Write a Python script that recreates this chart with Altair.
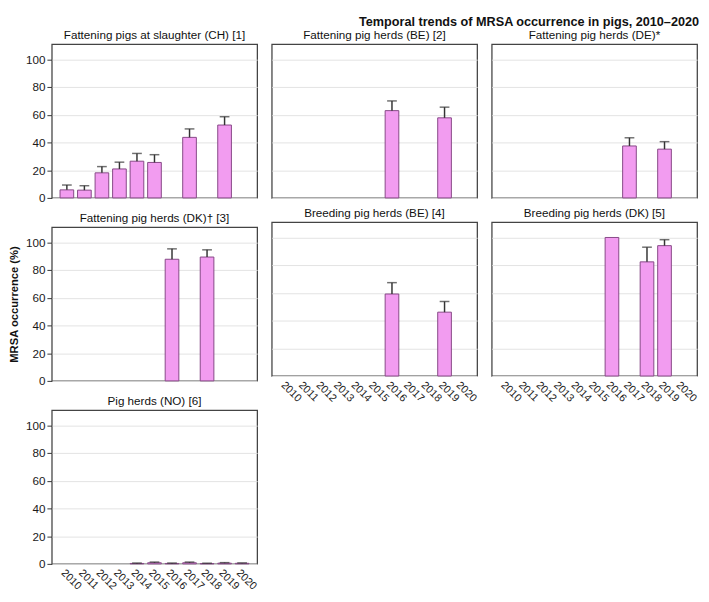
import altair as alt
import pandas as pd

years = [str(y) for y in range(2010, 2021)]
y_ticks = [0, 20, 40, 60, 80, 100]

titles = [
    "Fattening pigs at slaughter (CH) [1]",
    "Fattening pig herds (BE) [2]",
    "Fattening pig herds (DE)*",
    "Fattening pig herds (DK)\u2020 [3]",
    "Breeding pig herds (BE) [4]",
    "Breeding pig herds (DK) [5]",
    "Pig herds (NO) [6]",
]

ch_years = ["2010", "2011", "2012", "2013", "2014", "2015", "2017", "2019"]
ch_values = [5.8, 5.6, 18.1, 20.9, 26.5, 25.6, 43.7, 52.6]
ch_upper = [9.3, 8.8, 22.6, 25.8, 32.1, 31.2, 49.8, 58.6]

befat_years = ["2016", "2019"]
befat_values = [63.0, 57.8]
befat_upper = [70.0, 65.5]

defat_years = ["2017", "2019"]
defat_values = [37.5, 35.2]
defat_upper = [43.4, 40.6]

dkfat_years = ["2016", "2018"]
dkfat_values = [87.8, 89.4]
dkfat_upper = [95.3, 94.6]

bebr_years = ["2016", "2019"]
bebr_values = [59.2, 46.1]
bebr_upper = [67.4, 53.8]

dkbr_years = ["2016", "2018", "2019"]
dkbr_values = [100.0, 82.4, 94.1]
dkbr_upper = [None, 93.0, 98.4]

no_years = ["2014", "2015", "2016", "2017", "2018", "2019", "2020"]
no_values = [0.3, 0.8, 0.3, 0.8, 0.2, 0.5, 0.4]
no_upper = [0.6, 1.3, 0.6, 1.3, 0.5, 0.9, 0.7]

series = [
    (ch_years, ch_values, ch_upper),
    (befat_years, befat_values, befat_upper),
    (defat_years, defat_values, defat_upper),
    (dkfat_years, dkfat_values, dkfat_upper),
    (bebr_years, bebr_values, bebr_upper),
    (dkbr_years, dkbr_values, dkbr_upper),
    (no_years, no_values, no_upper),
]

rows = []
for t, (ys, vs, us) in zip(titles, series):
    for y, v, u in zip(ys, vs, us):
        rows.append({"panel": t, "year": y, "value": v, "upper": u})
df = pd.DataFrame(rows)

FONT = "Liberation Sans"
W, H = 211, 158


def panel(idx, show_y_labels, show_x_labels, y_title=None):
    t = titles[idx]
    base = alt.Chart(df).transform_filter(alt.datum.panel == t)
    if show_x_labels:
        xaxis = alt.Axis(title=None, labelAngle=45, labelAlign="left", labelBaseline="top",
                         ticks=False, domain=False, labelPadding=3, labelFontSize=11,
                         labelColor="#1a1a1a", labelFont=FONT, labelOverlap=False)
    else:
        xaxis = None
    xscale = alt.Scale(domain=years, paddingInner=0.22, paddingOuter=0.47)
    x = alt.X("year:N", sort=years, scale=xscale, axis=xaxis)
    common = dict(values=y_ticks, grid=True, gridColor="#e2e2e2",
                  domain=False, labelOverlap=False)
    if show_y_labels:
        if y_title:
            yaxis = alt.Axis(ticks=True, tickSize=5, tickColor="#333",
                             labelFontSize=12, labelColor="#1a1a1a", labelFont=FONT, labelPadding=2,
                             title=y_title, titleFontSize=11.5, titleFontWeight="bold",
                             titleFont=FONT, titleColor="#111", titlePadding=6, **common)
        else:
            yaxis = alt.Axis(ticks=True, tickSize=5, tickColor="#333",
                             labelFontSize=12, labelColor="#1a1a1a", labelFont=FONT, labelPadding=2,
                             title=None, **common)
    else:
        yaxis = alt.Axis(ticks=False, labels=False, title=None, **common)
    yscale = alt.Scale(domain=[0, 111], nice=False)
    bars = base.mark_bar(fill="#f29cf0", stroke="#854785", strokeWidth=1).encode(
        x=x, y=alt.Y("value:Q", scale=yscale, axis=yaxis)
    )
    err = base.transform_filter("isValid(datum.upper)").mark_rule(
        color="#333", strokeWidth=1.5
    ).encode(x=x, y=alt.Y("value:Q", scale=yscale, axis=yaxis), y2="upper:Q")
    cap = base.transform_filter("isValid(datum.upper)").mark_tick(
        color="#333", thickness=1.5, size=10
    ).encode(x=x, y=alt.Y("upper:Q", scale=yscale, axis=yaxis))
    return alt.layer(bars, err, cap).properties(
        width=W, height=H,
        title=alt.TitleParams(text=t, fontSize=12, fontWeight="normal", font=FONT,
                              color="#111", anchor="middle", offset=2),
    )


col1 = alt.vconcat(panel(0, True, False), panel(3, True, False, "MRSA occurrence (%)"),
                   panel(6, True, True), spacing=7)
col2 = alt.vconcat(panel(1, False, False), panel(4, False, True), spacing=7)
col3 = alt.vconcat(panel(2, False, False), panel(5, False, True), spacing=7)

chart = alt.hconcat(col1, col2, col3, spacing=12).properties(
    title=alt.TitleParams(text="Temporal trends of MRSA occurrence in pigs, 2010\u20132020",
                          anchor="end", fontSize=13, fontWeight="bold", font=FONT,
                          color="#111", offset=-3, dy=-3),
    padding={"left": 0, "top": 0, "right": 2, "bottom": 0},
).configure_view(stroke="#444444", strokeWidth=1.3)

chart.save("out.html", embed_options={"renderer": "svg", "actions": False})
